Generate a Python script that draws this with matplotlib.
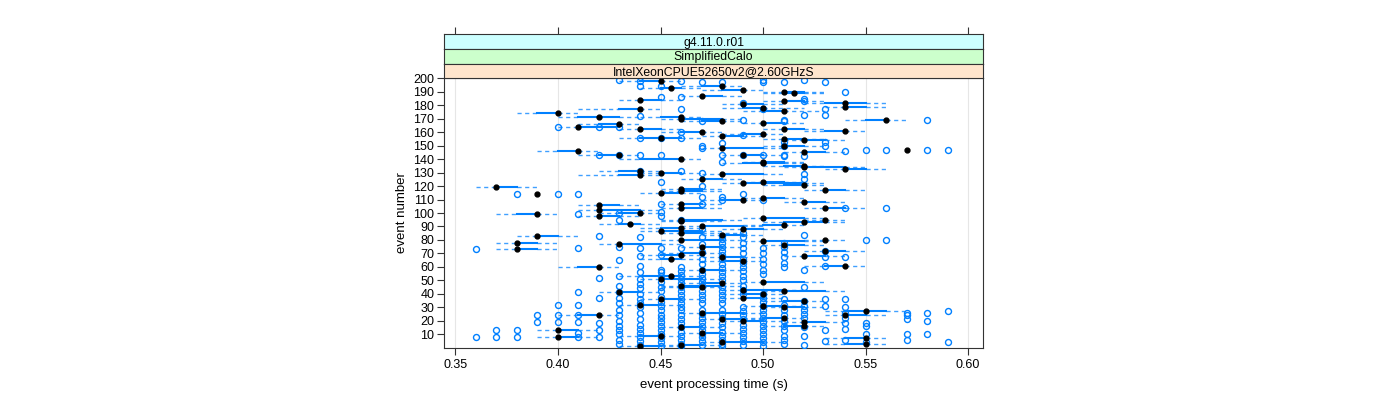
import matplotlib
matplotlib.use("Agg")
import matplotlib.pyplot as plt

plt.rcParams['font.family'] = ['Liberation Sans', 'DejaVu Sans']

# per-event summaries: black dot = median, solid = q1..q3, dashed = lo..hi
event = [198, 194, 193, 191, 190, 189, 187, 184, 183, 182,
         181, 179, 178, 177, 176, 174, 171, 171, 170, 169,
         168, 167, 166, 164, 162, 162, 161, 160, 159, 157,
         156, 155, 154, 150, 148, 147, 146, 145, 143, 143,
         140, 138, 137, 135, 134, 133, 131, 130, 129, 128,
         125, 123, 122, 121, 119, 118, 117, 116, 115, 114,
         111, 110, 108, 107, 106, 104, 104, 102, 100, 99,
         98, 96, 95, 95, 94, 93, 92, 91, 90, 89,
         88, 87, 85, 84, 83, 80, 80, 79, 78, 77,
         76, 75, 73, 72, 70, 69, 68, 67, 66, 64,
         61, 60, 58, 53, 51, 49, 48, 46, 45, 43,
         42, 41, 40, 37, 36, 35, 32, 31, 30, 27,
         26, 24, 24, 22, 21, 20, 19, 16, 15, 13,
         11, 9, 8, 7, 4, 3, 2, 1]

med = [0.45, 0.48, 0.455, 0.49, 0.51, 0.515, 0.47, 0.44, 0.51, 0.54,
       0.49, 0.54, 0.50, 0.44, 0.51, 0.40, 0.42, 0.46, 0.46, 0.56,
       0.48, 0.50, 0.43, 0.41, 0.44, 0.51, 0.54, 0.47, 0.50, 0.48,
       0.45, 0.51, 0.52, 0.51, 0.48, 0.57, 0.41, 0.52, 0.43, 0.49,
       0.46, 0.50, 0.50, 0.52, 0.52, 0.54, 0.44, 0.45, 0.48, 0.44,
       0.47, 0.50, 0.49, 0.52, 0.37, 0.46, 0.53, 0.46, 0.45, 0.39,
       0.50, 0.49, 0.52, 0.46, 0.42, 0.46, 0.53, 0.42, 0.44, 0.39,
       0.42, 0.50, 0.46, 0.53, 0.46, 0.52, 0.435, 0.51, 0.47, 0.46,
       0.49, 0.45, 0.46, 0.48, 0.39, 0.46, 0.53, 0.50, 0.38, 0.43,
       0.51, 0.47, 0.38, 0.53, 0.47, 0.46, 0.52, 0.48, 0.455, 0.49,
       0.54, 0.42, 0.47, 0.455, 0.45, 0.50, 0.48, 0.46, 0.47, 0.49,
       0.51, 0.43, 0.50, 0.49, 0.45, 0.52, 0.44, 0.50, 0.51, 0.55,
       0.47, 0.42, 0.54, 0.51, 0.48, 0.49, 0.52, 0.52, 0.46, 0.40,
       0.47, 0.45, 0.40, 0.55, 0.48, 0.55, 0.46, 0.44]

q1 = [0.44, 0.47, 0.45, 0.48, 0.51, 0.51, 0.47, 0.44, 0.51, 0.53,
      0.49, 0.54, 0.49, 0.43, 0.50, 0.39, 0.41, 0.45, 0.46, 0.55,
      0.47, 0.50, 0.42, 0.41, 0.44, 0.51, 0.53, 0.46, 0.49, 0.48,
      0.44, 0.51, 0.52, 0.51, 0.48, 0.57, 0.40, 0.52, 0.42, 0.49,
      0.44, 0.50, 0.49, 0.51, 0.52, 0.54, 0.43, 0.45, 0.48, 0.43,
      0.47, 0.50, 0.49, 0.51, 0.37, 0.46, 0.53, 0.46, 0.45, 0.39,
      0.50, 0.48, 0.52, 0.46, 0.42, 0.46, 0.53, 0.42, 0.43, 0.38,
      0.42, 0.50, 0.46, 0.53, 0.46, 0.51, 0.43, 0.50, 0.47, 0.45,
      0.49, 0.45, 0.46, 0.48, 0.39, 0.46, 0.53, 0.50, 0.38, 0.43,
      0.51, 0.47, 0.38, 0.53, 0.46, 0.45, 0.52, 0.48, 0.45, 0.48,
      0.53, 0.41, 0.47, 0.44, 0.45, 0.50, 0.47, 0.46, 0.46, 0.49,
      0.51, 0.43, 0.49, 0.49, 0.45, 0.51, 0.44, 0.50, 0.51, 0.54,
      0.47, 0.41, 0.54, 0.50, 0.48, 0.49, 0.52, 0.51, 0.46, 0.40,
      0.47, 0.44, 0.40, 0.54, 0.48, 0.54, 0.46, 0.44]

q3 = [0.45, 0.48, 0.46, 0.49, 0.52, 0.52, 0.48, 0.45, 0.52, 0.55,
      0.50, 0.55, 0.50, 0.44, 0.51, 0.40, 0.43, 0.46, 0.48, 0.56,
      0.48, 0.51, 0.43, 0.43, 0.45, 0.52, 0.54, 0.47, 0.50, 0.49,
      0.46, 0.52, 0.53, 0.52, 0.50, 0.57, 0.41, 0.53, 0.43, 0.50,
      0.46, 0.51, 0.51, 0.52, 0.54, 0.55, 0.44, 0.46, 0.50, 0.44,
      0.48, 0.51, 0.52, 0.52, 0.38, 0.47, 0.54, 0.47, 0.46, 0.39,
      0.51, 0.49, 0.53, 0.47, 0.43, 0.47, 0.54, 0.44, 0.44, 0.39,
      0.43, 0.52, 0.48, 0.53, 0.47, 0.53, 0.44, 0.51, 0.49, 0.46,
      0.50, 0.47, 0.47, 0.49, 0.40, 0.48, 0.53, 0.52, 0.39, 0.45,
      0.52, 0.48, 0.39, 0.54, 0.47, 0.46, 0.53, 0.49, 0.46, 0.49,
      0.54, 0.42, 0.48, 0.46, 0.47, 0.52, 0.48, 0.48, 0.47, 0.51,
      0.53, 0.44, 0.50, 0.50, 0.46, 0.52, 0.45, 0.51, 0.52, 0.56,
      0.49, 0.42, 0.55, 0.51, 0.49, 0.50, 0.53, 0.52, 0.47, 0.41,
      0.48, 0.45, 0.41, 0.55, 0.50, 0.55, 0.47, 0.45]

lo = [0.43, 0.46, 0.44, 0.47, 0.50, 0.50, 0.46, 0.43, 0.50, 0.52,
      0.48, 0.53, 0.48, 0.41, 0.49, 0.38, 0.40, 0.44, 0.45, 0.54,
      0.46, 0.49, 0.41, 0.40, 0.43, 0.50, 0.52, 0.45, 0.48, 0.47,
      0.43, 0.50, 0.51, 0.50, 0.47, 0.57, 0.39, 0.51, 0.41, 0.48,
      0.43, 0.49, 0.48, 0.50, 0.51, 0.53, 0.42, 0.44, 0.47, 0.41,
      0.46, 0.49, 0.48, 0.50, 0.36, 0.45, 0.52, 0.45, 0.44, 0.39,
      0.49, 0.47, 0.51, 0.45, 0.41, 0.45, 0.52, 0.41, 0.42, 0.37,
      0.41, 0.49, 0.45, 0.52, 0.45, 0.50, 0.42, 0.49, 0.46, 0.44,
      0.48, 0.44, 0.45, 0.47, 0.38, 0.45, 0.52, 0.49, 0.37, 0.42,
      0.50, 0.46, 0.37, 0.52, 0.45, 0.44, 0.51, 0.47, 0.44, 0.47,
      0.52, 0.40, 0.46, 0.43, 0.44, 0.49, 0.46, 0.45, 0.45, 0.48,
      0.50, 0.42, 0.48, 0.48, 0.44, 0.50, 0.43, 0.49, 0.50, 0.53,
      0.46, 0.40, 0.53, 0.49, 0.47, 0.48, 0.51, 0.50, 0.45, 0.39,
      0.46, 0.43, 0.39, 0.53, 0.47, 0.53, 0.45, 0.43]

hi = [0.46, 0.49, 0.47, 0.50, 0.53, 0.53, 0.49, 0.46, 0.53, 0.56,
      0.51, 0.56, 0.52, 0.45, 0.53, 0.41, 0.44, 0.47, 0.49, 0.57,
      0.49, 0.52, 0.44, 0.43, 0.46, 0.53, 0.55, 0.48, 0.51, 0.50,
      0.47, 0.53, 0.54, 0.53, 0.51, 0.57, 0.42, 0.54, 0.44, 0.51,
      0.47, 0.52, 0.52, 0.53, 0.55, 0.56, 0.45, 0.47, 0.51, 0.45,
      0.49, 0.52, 0.53, 0.53, 0.39, 0.48, 0.55, 0.48, 0.47, 0.39,
      0.52, 0.50, 0.54, 0.48, 0.44, 0.48, 0.55, 0.45, 0.45, 0.40,
      0.44, 0.53, 0.49, 0.54, 0.48, 0.54, 0.45, 0.52, 0.50, 0.47,
      0.51, 0.48, 0.49, 0.50, 0.41, 0.49, 0.54, 0.53, 0.40, 0.46,
      0.53, 0.49, 0.40, 0.55, 0.48, 0.47, 0.54, 0.50, 0.47, 0.50,
      0.55, 0.43, 0.49, 0.47, 0.48, 0.53, 0.49, 0.49, 0.48, 0.52,
      0.54, 0.45, 0.51, 0.51, 0.47, 0.53, 0.46, 0.52, 0.53, 0.57,
      0.50, 0.43, 0.56, 0.52, 0.50, 0.51, 0.54, 0.53, 0.48, 0.42,
      0.49, 0.46, 0.42, 0.56, 0.51, 0.56, 0.48, 0.46]

# individual runs (open circles), grouped by measured time
run_times = [0.36, 0.37, 0.38, 0.39, 0.40, 0.41, 0.42, 0.43, 0.44, 0.45, 0.46, 0.47,
             0.48, 0.49, 0.50, 0.51, 0.52, 0.53, 0.54, 0.55, 0.56, 0.57, 0.58, 0.59]
run_events = [
    [8, 73],
    [8, 13],
    [8, 13, 114],
    [19, 24],
    [19, 24, 32, 114, 164],
    [8, 11, 19, 24, 32, 41, 74, 99, 114],
    [8, 13, 18, 37, 52, 83, 143, 164],
    [3, 6, 10, 13, 16, 20, 24, 28, 33, 37, 41, 46, 53, 65, 75, 95, 100, 143, 164, 199],
    [2, 5, 8, 11, 14, 17, 21, 26, 30, 33, 36, 40, 44, 47, 51, 56, 61, 68, 74, 82,
     131, 143, 156, 172, 194, 198],
    [1, 4, 7, 10, 13, 16, 19, 22, 24, 28, 31, 34, 38, 42, 45, 49, 53, 56, 58, 69,
     74, 98, 101, 107, 123, 143, 156, 186, 194],
    [1, 3, 6, 9, 12, 15, 18, 21, 24, 28, 30, 33, 36, 39, 42, 45, 48, 51, 54, 57,
     60, 74, 95, 131, 156, 160, 177, 186, 198],
    [2, 5, 8, 10, 13, 16, 19, 22, 25, 28, 33, 36, 39, 42, 46, 49, 52, 55, 58, 62,
     66, 71, 77, 82, 88, 107, 112, 120, 130, 148, 150, 168, 197],
    [1, 3, 6, 9, 12, 15, 18, 22, 25, 28, 33, 36, 39, 42, 45, 50, 53, 56, 59, 62,
     66, 69, 72, 75, 78, 81, 83, 110, 112, 138, 143, 152, 197],
    [2, 5, 8, 11, 14, 17, 21, 24, 27, 30, 40, 43, 46, 50, 53, 57, 60, 63, 66, 70,
     74, 78, 82, 85, 114, 143, 158, 169, 182],
    [1, 4, 7, 10, 13, 16, 19, 22, 25, 28, 31, 34, 37, 40, 55, 58, 62, 66, 70, 74,
     110, 143, 177, 197, 199],
    [3, 6, 9, 13, 16, 20, 24, 28, 32, 36, 60, 63, 67, 71, 75, 78, 142, 143, 150, 153,
     168, 169, 197],
    [2, 9, 15, 22, 25, 28, 31, 35, 45, 58, 84, 125, 129, 142, 173, 183, 185, 199],
    [5, 13, 31, 36, 61, 67, 72, 150, 153, 173, 177, 197],
    [6, 14, 18, 22, 26, 30, 36, 67, 104, 146, 190],
    [4, 10, 16, 18, 80, 147],
    [80, 104, 147],
    [6, 10, 21, 24, 26],
    [10, 20, 26, 147, 169],
    [4, 27, 147],
]

strip_labels = ["g4.11.0.r01", "SimplifiedCalo", "IntelXeonCPUE52650v2@2.60GHzS"]
strip_colors = ["#ccffff", "#ccffcc", "#ffe5cc"]

blue = "#0080ff"
W, H = 1400, 400
fig = plt.figure(figsize=(14, 4), dpi=100)

left, right = 444, 983
top, bottom = 78.3, 347.7
ax = fig.add_axes([left / W, 1 - bottom / H, (right - left) / W, (bottom - top) / H])

xlim = (0.3444, 0.6073)
xticks = [0.35, 0.40, 0.45, 0.50, 0.55, 0.60]
ax.set_xlim(*xlim)
ax.set_ylim(0, 200)

for t in xticks:
    ax.axvline(t, color="#e6e6e6", lw=0.8, zorder=0)

# dashed whiskers, solid boxes
for e, a, b in zip(event, lo, q1):
    ax.plot([a, b], [e, e], color=blue, lw=1.0, ls=(0, (3, 2.5)), alpha=0.75, zorder=1)
for e, a, b in zip(event, q3, hi):
    ax.plot([a, b], [e, e], color=blue, lw=1.0, ls=(0, (3, 2.5)), alpha=0.75, zorder=1)
for e, a, b in zip(event, q1, q3):
    ax.plot([a, b], [e, e], color=blue, lw=1.5, zorder=2)

for t, evs in zip(run_times, run_events):
    ax.plot([t] * len(evs), evs, ls="none", marker="o", ms=4.3, mfc="none",
            mec=blue, mew=1.0, zorder=3)

ax.plot(med, event, ls="none", marker="o", ms=3.5, color="black", zorder=4)

ax.set_xticks(xticks)
ax.set_xticklabels(["%.2f" % t for t in xticks])
ax.set_yticks(range(10, 201, 10))
ax.tick_params(axis="both", direction="out", length=5, width=0.8, color="#333333",
               labelsize=9, top=False, right=False)
ax.tick_params(axis="x", pad=3)
ax.tick_params(axis="y", pad=2)
for s in ax.spines.values():
    s.set_color("#333333")
    s.set_linewidth(0.8)
ax.set_xlabel("event processing time (s)", fontsize=9.5, labelpad=6)
ax.set_ylabel("event number", fontsize=9.5, labelpad=4)

# strips above the panel, outermost level on top
strip_top = [34.3, 49.3, 64.0]
strip_bot = [49.3, 64.0, 78.3]
for lab, col, t0, b0 in zip(strip_labels, strip_colors, strip_top, strip_bot):
    sax = fig.add_axes([left / W, 1 - b0 / H, (right - left) / W, (b0 - t0) / H])
    sax.set_facecolor(col)
    sax.set_xlim(*xlim)
    sax.set_ylim(0, 1)
    sax.set_yticks([])
    if lab == strip_labels[0]:
        sax.set_xticks(xticks)
        sax.tick_params(axis="x", top=True, bottom=False, labeltop=False,
                        labelbottom=False, direction="out", length=5, width=0.8,
                        color="#333333")
    else:
        sax.set_xticks([])
    for s in sax.spines.values():
        s.set_color("#333333")
        s.set_linewidth(0.8)
    sax.text(0.5, 0.45, lab, transform=sax.transAxes, ha="center", va="center",
             fontsize=8.8)

fig.savefig("out.png", dpi=100)
